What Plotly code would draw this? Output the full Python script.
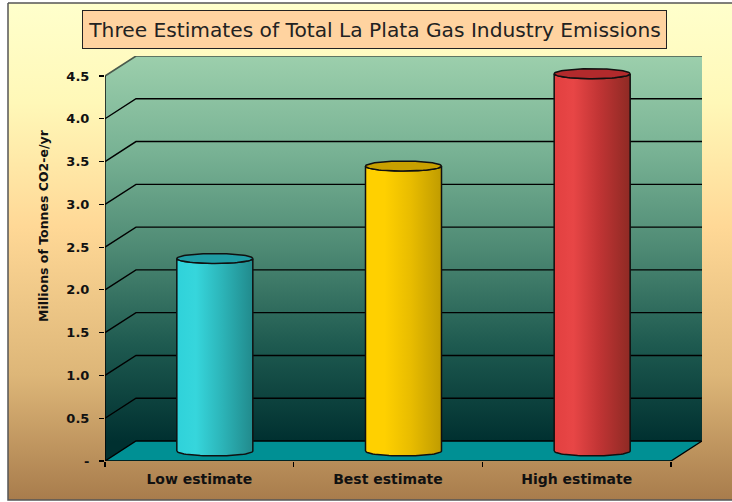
import numpy as np
import plotly.graph_objects as go

categories = ["Low estimate", "Best estimate", "High estimate"]
values = [2.25, 3.33, 4.41]
y_ticks = [0, 0.5, 1.0, 1.5, 2.0, 2.5, 3.0, 3.5, 4.0, 4.5]
y_labels = ["-", "0.5", "1.0", "1.5", "2.0", "2.5", "3.0", "3.5", "4.0", "4.5"]
title = "Three Estimates of Total La Plata Gas Industry Emissions"
y_title = "Millions of Tonnes CO2-e/yr"

W, H = 732, 502
PX_L, PX_R_FRONT, PX_R, PX_T, PX_B = 105, 671, 702, 56, 461
UX = (PX_R_FRONT - PX_L) / 3
UY = (461 - 76) / 4.5
DX = (PX_R - PX_R_FRONT) / UX
DY = (461 - 441) / UY
XMIN, XMAX_F, XMAX = -0.5, 2.5, 2.5 + DX
YTOP = 4.5
YMAX = YTOP + DY
HW = 38 / UX
RY = 5 / UY

body_scales = [
    [[0, "#2FD2DA"], [0.25, "#36D6DC"], [0.6, "#2CB4B8"], [1, "#218A8C"]],
    [[0, "#FFD000"], [0.25, "#FFD000"], [0.6, "#E8BC00"], [1, "#C09C00"]],
    [[0, "#E24040"], [0.25, "#E84646"], [0.6, "#C03434"], [1, "#8E2A24"]],
]
cap_colors = ["#1F9CA4", "#C8A000", "#B22A2C"]

fig = go.Figure()


def solid_grad(xs, ys, kind, start, stop, scale, line=None, xa="x2", ya="y2"):
    fig.add_trace(go.Scatter(
        x=xs, y=ys, xaxis=xa, yaxis=ya, mode="lines" if line else "none",
        fill="toself",
        fillgradient=dict(type=kind, start=start, stop=stop, colorscale=scale),
        line=line or dict(width=0), hoverinfo="skip", showlegend=False))


def lines(xs, ys, color="#000000", width=1.4):
    fig.add_trace(go.Scatter(
        x=xs, y=ys, xaxis="x2", yaxis="y2", mode="lines",
        line=dict(color=color, width=width), hoverinfo="skip",
        showlegend=False, cliponaxis=False))


solid_grad([8, 740, 740, 8, 8], [3, 3, 500, 500, 3], "vertical", 3, 500,
           [[0, "#FFFFCC"], [0.2, "#FFF8B8"], [0.45, "#FFD896"],
            [0.75, "#DDB678"], [1, "#A87C4C"]],
           line=dict(color="#555555", width=1.5), xa="x", ya="y")

wall_scale = [[0, "#003030"], [0.25, "#1E5A50"], [0.5, "#4E8A74"],
              [0.75, "#78B294"], [1, "#9CCFAC"]]
solid_grad([XMIN + DX, XMAX, XMAX, XMIN + DX, XMIN + DX],
           [DY, DY, YMAX, YMAX, DY], "vertical", DY, YMAX, wall_scale)
solid_grad([XMIN, XMIN + DX, XMIN + DX, XMIN, XMIN],
           [0, DY, YMAX, YTOP, 0], "vertical", DY, YMAX, wall_scale)
fig.add_trace(go.Scatter(
    x=[XMIN, XMIN + DX, XMAX, XMAX_F, XMIN], y=[0, DY, DY, 0, 0],
    xaxis="x2", yaxis="y2", mode="none", fill="toself", fillcolor="#009094",
    hoverinfo="skip", showlegend=False))

for t in y_ticks:
    top = t == y_ticks[-1]
    lines([XMIN, XMIN + DX, XMAX], [t, t + DY, t + DY],
          color="#4A5A4C" if top else "#000000", width=1.6 if top else 1.4)
lines([XMIN, XMIN], [0, YTOP])
lines([XMIN, XMAX_F, XMAX], [0, 0, DY])
lines([XMAX, XMAX], [DY, DY + 0.5], color="#12302C", width=1)

theta = np.linspace(np.pi, 2 * np.pi, 41)
for i, v in enumerate(values):
    cx = i + DX / 2
    base = DY / 2
    topy = v + DY / 2
    low_x = cx + HW * np.cos(theta)
    low_y = base + RY * np.sin(theta)
    up_x = low_x[::-1]
    up_y = topy + RY * np.sin(theta)[::-1]
    solid_grad(np.r_[low_x, up_x, low_x[0]], np.r_[low_y, up_y, low_y[0]],
               "horizontal", cx - HW, cx + HW, body_scales[i],
               line=dict(color="#101010", width=1.5))
    t_full = np.linspace(0, 2 * np.pi, 81)
    fig.add_trace(go.Scatter(
        x=cx + HW * np.cos(t_full), y=topy + RY * np.sin(t_full),
        xaxis="x2", yaxis="y2", mode="lines", fill="toself",
        fillcolor=cap_colors[i], line=dict(color="#101010", width=1.5),
        hoverinfo="skip", showlegend=False))

fig.add_trace(go.Scatter(x=[0, 1, 2], y=[None] * 3, xaxis="x3", yaxis="y2",
                         mode="lines", hoverinfo="skip", showlegend=False))

dom_x = [PX_L / W, PX_R / W]
fig.update_layout(
    width=W, height=H, margin=dict(l=0, r=0, t=0, b=0, pad=0, autoexpand=False),
    paper_bgcolor="white", plot_bgcolor="rgba(0,0,0,0)", showlegend=False,
    xaxis=dict(domain=[0, 1], range=[0, W], visible=False, fixedrange=True),
    yaxis=dict(domain=[0, 1], range=[H, 0], visible=False, fixedrange=True),
    xaxis2=dict(domain=dom_x, anchor="y2", range=[XMIN, XMAX],
                tickvals=[-0.5, 0.5, 1.5, 2.5], ticktext=[""] * 4,
                ticks="outside", ticklen=5, tickcolor="#000000", tickwidth=1.2,
                showgrid=False, zeroline=False, showline=False, fixedrange=True,
                automargin=False),
    xaxis3=dict(domain=dom_x, anchor="y2", overlaying="x2", side="bottom",
                range=[XMIN, XMAX], tickvals=[0, 1, 2], ticktext=categories,
                ticks="", ticklabelstandoff=8,
                tickfont=dict(family="DejaVu Sans", size=14, color="#111111", weight="bold"),
                showgrid=False, zeroline=False, showline=False, fixedrange=True,
                automargin=False),
    yaxis2=dict(domain=[1 - PX_B / H, 1 - PX_T / H], anchor="x2",
                range=[0, YMAX], tickvals=y_ticks, ticktext=y_labels,
                ticks="outside", ticklen=5, tickcolor="#000000", tickwidth=1.2,
                tickfont=dict(family="DejaVu Sans", size=13, color="#111111", weight="bold"),
                ticklabelstandoff=7,
                showgrid=False, zeroline=False, showline=False, fixedrange=True,
                automargin=False),
    annotations=[
        dict(text=title, xref="paper", yref="paper", x=374.5 / W, y=1 - 30 / H,
             xanchor="center", yanchor="middle", showarrow=False,
             font=dict(family="DejaVu Sans", size=20.2, color="#222222"),
             bgcolor="#FFD3A0", bordercolor="#222222", borderwidth=1,
             width=581, height=35),
        dict(text="<b>" + y_title + "</b>", xref="paper", yref="paper",
             x=43 / W, y=1 - 226 / H, textangle=-90, xanchor="center", yanchor="middle",
             showarrow=False, font=dict(family="DejaVu Sans", size=12.5, color="#111111")),
    ],
)

fig.write_html("out.html", config={"displayModeBar": False, "staticPlot": True},
               post_script="document.body.style.margin='0';document.body.style.overflow='hidden';")
